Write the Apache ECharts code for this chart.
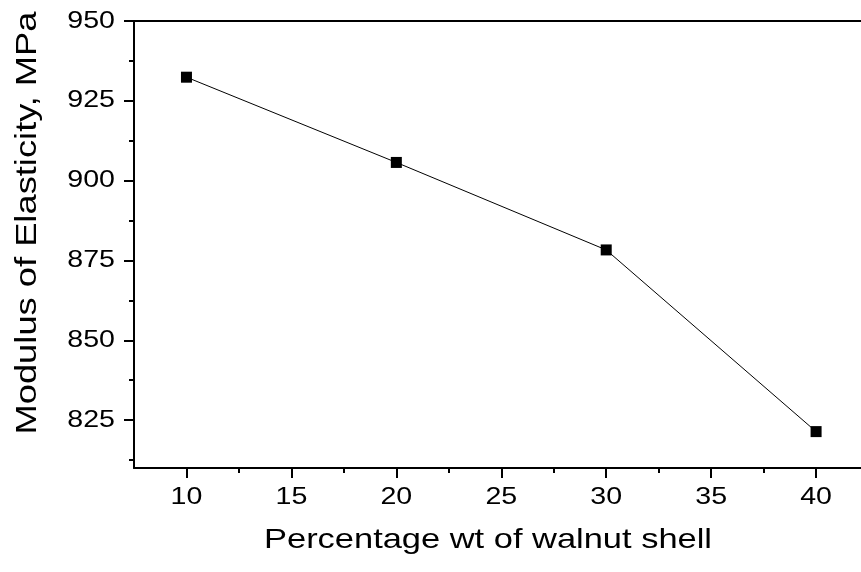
<!DOCTYPE html>
<html>
<head>
<meta charset="utf-8">
<script src="https://cdn.jsdelivr.net/npm/echarts@6/dist/echarts.min.js"></script>
<style>html,body{margin:0;padding:0;background:#fff}#c{width:861px;height:572px}</style>
</head>
<body>
<div id="c"></div>
<script>
const categories = [10, 20, 30, 40];
const modulus = [932.4, 905.7, 878.3, 821.4];
const xTickLabels = [10, 15, 20, 25, 30, 35, 40];
const xMinorTicks = [12.5, 17.5, 22.5, 27.5, 32.5, 37.5];
const yTickLabels = [825, 850, 875, 900, 925, 950];
const yMinorTicks = [812.5, 837.5, 862.5, 887.5, 912.5, 937.5];
const xTitle = 'Percentage wt of walnut shell';
const yTitle = 'Modulus of Elasticity, MPa';

const FONT = 'Arial, "Liberation Sans", sans-serif';
const STRETCH = 1.19;
const chart = echarts.init(document.getElementById('c'), null, {renderer: 'canvas'});
const lineStyle = {color: '#000', width: 2};
const base = {min: 7.5, max: 42.14, type: 'value', splitLine: {show: false}};
const ybase = {min: 810, max: 950, type: 'value', splitLine: {show: false}};
chart.setOption({
  animation: false,
  backgroundColor: '#fff',
  grid: {left: 134, top: 21, width: 727, height: 447, containLabel: false},
  xAxis: [
    Object.assign({}, base, {
      position: 'bottom',
      axisLine: {show: true, onZero: false, lineStyle},
      axisTick: {show: true, length: 10, inside: false, lineStyle, customValues: xTickLabels},
      axisLabel: {show: false}
    }),
    Object.assign({}, base, {
      position: 'bottom',
      axisLine: {show: false, onZero: false},
      axisTick: {show: true, length: 5, lineStyle, customValues: xMinorTicks},
      axisLabel: {show: false}
    }),
    Object.assign({}, base, {
      position: 'top',
      axisLine: {show: true, onZero: false, lineStyle},
      axisTick: {show: false},
      axisLabel: {show: false}
    })
  ],
  yAxis: [
    Object.assign({}, ybase, {
      position: 'left',
      axisLine: {show: true, onZero: false, lineStyle},
      axisTick: {show: true, length: 10, lineStyle, customValues: yTickLabels},
      axisLabel: {show: false}
    }),
    Object.assign({}, ybase, {
      position: 'left',
      axisLine: {show: false, onZero: false},
      axisTick: {show: true, length: 5, lineStyle, customValues: yMinorTicks},
      axisLabel: {show: false}
    })
  ],
  series: [{
    type: 'line',
    xAxisIndex: 0,
    yAxisIndex: 0,
    data: categories.map((c, i) => [c, modulus[i]]),
    symbol: 'rect',
    symbolSize: 11,
    itemStyle: {color: '#000'},
    lineStyle: {color: '#000', width: 1},
    z: 5
  }]
});

// Tick labels placed via the library's own axis scales (stretched horizontally like the original)
const graphics = [];
xTickLabels.forEach(v => {
  const px = chart.convertToPixel({xAxisIndex: 0}, v);
  graphics.push({type: 'text', x: px, y: 497, scaleX: STRETCH, silent: true,
    style: {text: String(v), fontSize: 24, fontFamily: FONT, fill: '#000', x: 0, y: 0, align: 'center', verticalAlign: 'middle'}});
});
yTickLabels.forEach(v => {
  const py = chart.convertToPixel({yAxisIndex: 0}, v);
  graphics.push({type: 'text', x: 115, y: py, scaleX: STRETCH, silent: true,
    style: {text: String(v), fontSize: 24, fontFamily: FONT, fill: '#000', x: 0, y: 0, align: 'right', verticalAlign: 'middle'}});
});
graphics.push({type: 'text', x: 488, y: 540, scaleX: 1.23, silent: true,
  style: {text: xTitle, fontSize: 28, fontFamily: FONT, fill: '#000', x: 0, y: 0, align: 'center', verticalAlign: 'middle'}});
graphics.push({type: 'text', x: 28, y: 223, rotation: Math.PI / 2, scaleX: 1.21, silent: true,
  style: {text: yTitle, fontSize: 30, fontFamily: FONT, fill: '#000', x: 0, y: 0, align: 'center', verticalAlign: 'middle'}});
chart.setOption({graphic: graphics});
</script>
</body>
</html>
